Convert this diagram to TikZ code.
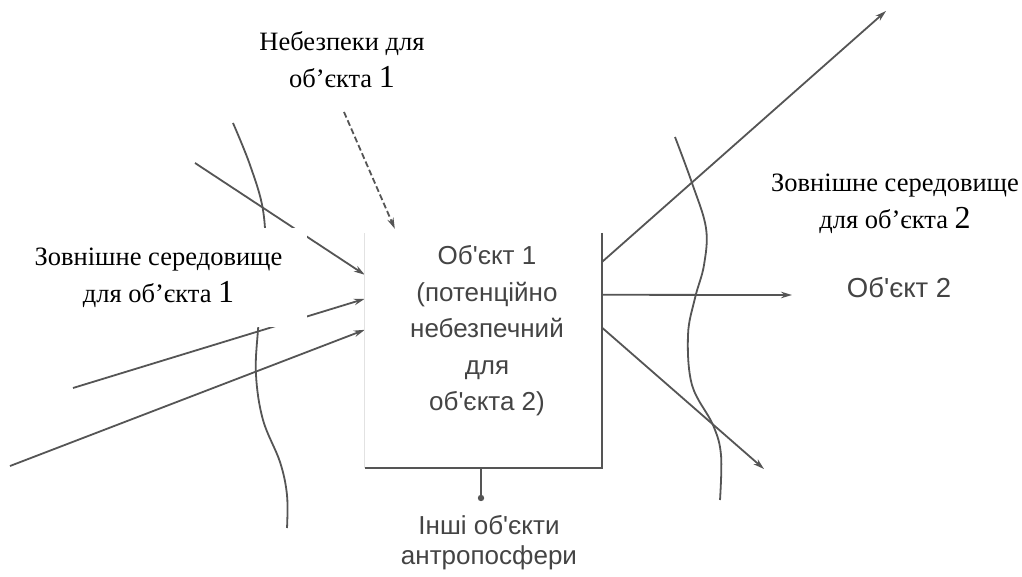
\documentclass[tikz,border=0pt]{standalone}
\usepackage{fontspec}
\usetikzlibrary{arrows.meta,calc}
\newfontfamily\serf{Liberation Serif}
\newfontfamily\sansf{Liberation Sans}
\definecolor{ln}{HTML}{555555}
\definecolor{tx}{HTML}{444444}
\definecolor{faint}{HTML}{E2E2E2}
\newcommand{\bignum}[1]{{\fontsize{32}{32}\selectfont #1}}
\begin{document}
\begin{tikzpicture}[x=1pt,y=-1pt,
  lineto/.style={draw=ln,line width=1.8pt},
  arr/.style={lineto,-{Stealth[length=11pt,width=6.5pt]}},
  dasharr/.style={arr,dash pattern=on 6pt off 3pt},
  curve/.style={draw=ln,line width=1.8pt},
  serlabel/.style={font=\serf\fontsize{26.5}{37}\selectfont,align=center,inner sep=0pt},
  sanslabel/.style={font=\sansf\fontsize{26}{36.5}\selectfont,text=tx,align=center,inner sep=0pt},
  whitebox/.style={fill=white,inner xsep=0pt,inner ysep=0pt}
]
\useasboundingbox (0,0) rectangle (1022,577);
\fill[white] (0,0) rectangle (1022,577);

% main box
\node[draw=none,minimum width=237pt,minimum height=235pt,inner sep=0pt] (box) at (483.5,350.5) {};

% free-end coordinates
\coordinate (a1) at (195,163);
\coordinate (a2) at (73,388);
\coordinate (a3) at (10,466);
\coordinate (d0) at (344,112);
\coordinate (b1) at (886,11);
\coordinate (b2) at (792,295);
\coordinate (b3) at (764,469);
\coordinate (dot) at (481,498);

% wavy boundaries
\draw[curve] plot[smooth,tension=0.6] coordinates {(233,123) (250,165) (263,210) (265,260) (258,330) (256,375) (263,420) (280,462) (287,495) (287,528)};
\draw[curve] plot[smooth,tension=0.6] coordinates {(675,137) (692,183) (706,228) (704,265) (695,298) (688,335) (692,385) (713,425) (721,455) (720,500)};

% incoming arrows
\draw[arr] (a1) -- ($(box.north west)+(0,42)$);
\draw[arr] (a2) -- ($(box.north west)+(0,66)$);
\draw[arr] (a3) -- ($(box.north west)+(0,97)$);
\draw[dasharr] (d0) -- ($(box.north west)+(30,-4)$);

% outgoing arrows
\draw[arr] ($(box.north east)+(0,29)$) -- (b1);
\draw[arr] ($(box.north east)+(0,62)$) -- (b2);
\draw[arr] ($(box.north east)+(0,95)$) -- (b3);

% box edges
\draw[draw=faint,line width=1pt] (box.south west) -- (box.north west);
\draw[draw=ln,line width=1.6pt] (box.north east) -- (box.south east) -- (box.south west);

% bottom connector with dot
\draw[lineto] (box.south -| dot) -- (dot);
\fill[ln] (dot) circle (3.2pt);

% labels
\node[serlabel,whitebox,minimum width=297pt,minimum height=99pt] (lenv1) at (158.5,277.5)
  {Зовнішне середовище\\для об’єкта \bignum{1}};
\node[serlabel,whitebox,minimum width=215pt,minimum height=96pt] (haz) at (342,60)
  {Небезпеки для\\об’єкта \bignum{1}};
\node[serlabel] (lenv2) at (895,204)
  {Зовнішне середовище\\для об’єкта \bignum{2}};

\node[sanslabel] (t1) at (487,331)
  {Об'єкт 1\\ (потенційно\\небезпечний\\для\\ об'єкта 2)};
\node[font=\sansf\fontsize{27.5}{30}\selectfont,text=tx,inner sep=0pt,anchor=base] (obj2) at (899,297) {Об'єкт 2};
\node[font=\sansf\fontsize{26}{30}\selectfont,text=tx,align=center,inner sep=0pt] (other) at (489,543)
  {Інші об'єкти\\антропосфери};
\end{tikzpicture}
\end{document}
